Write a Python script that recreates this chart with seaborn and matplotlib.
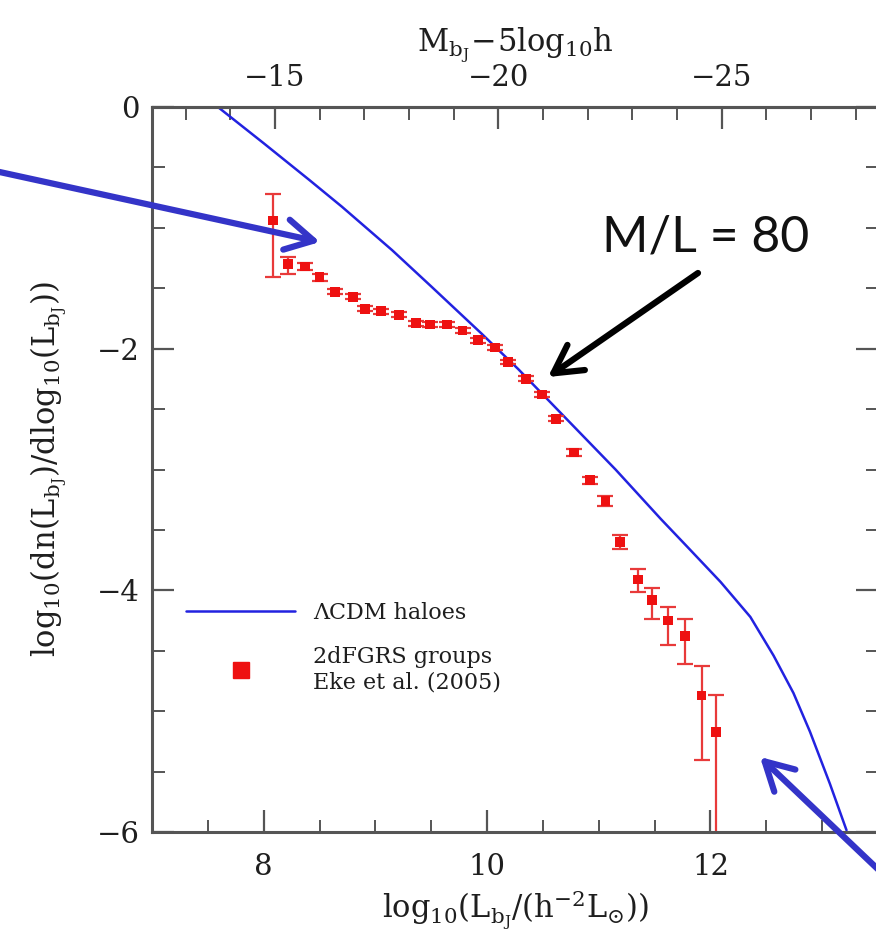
import numpy as np
import pandas as pd
import matplotlib
matplotlib.use("Agg")
import matplotlib.pyplot as plt
import seaborn as sns
from matplotlib.lines import Line2D
from matplotlib.ticker import MultipleLocator

# ---- data ----
curve_logL = [7.59, 8.00, 8.41, 8.70, 9.15, 9.50, 9.95, 10.28, 10.72, 11.15,
              11.556, 11.793, 12.09, 12.357, 12.565, 12.743, 12.891, 13.069, 13.218]
curve_phi = [0.0, -0.30, -0.605, -0.825, -1.185, -1.485, -1.875, -2.17, -2.59, -3.00,
             -3.41, -3.64, -3.93, -4.22, -4.54, -4.85, -5.17, -5.60, -5.985]

grp_logL = [8.08, 8.22, 8.37, 8.50, 8.64, 8.80, 8.91, 9.05, 9.21, 9.36, 9.49, 9.64,
            9.78, 9.92, 10.07, 10.19, 10.35, 10.49, 10.62, 10.78, 10.92, 11.06,
            11.19, 11.35, 11.48, 11.62, 11.77, 11.92, 12.05]
grp_phi = [-0.94, -1.30, -1.32, -1.41, -1.53, -1.57, -1.67, -1.69, -1.72, -1.79,
           -1.80, -1.80, -1.85, -1.93, -1.99, -2.11, -2.25, -2.38, -2.58, -2.86,
           -3.09, -3.26, -3.60, -3.91, -4.08, -4.25, -4.38, -4.87, -5.17]
grp_err_up = [0.22, 0.06, 0.03, 0.03, 0.02, 0.02, 0.02, 0.02, 0.02, 0.02, 0.02, 0.02,
              0.02, 0.02, 0.02, 0.02, 0.02, 0.02, 0.02, 0.03, 0.03, 0.04, 0.06,
              0.09, 0.10, 0.11, 0.14, 0.24, 0.30]
grp_err_lo = [0.47, 0.08, 0.03, 0.03, 0.02, 0.02, 0.02, 0.02, 0.02, 0.02, 0.02, 0.02,
              0.02, 0.02, 0.02, 0.02, 0.02, 0.02, 0.02, 0.03, 0.03, 0.04, 0.06,
              0.10, 0.16, 0.20, 0.23, 0.53, 1.50]

x_ticks = [8, 10, 12]
y_ticks = [-6, -4, -2, 0]
mag_ticks = [-15, -20, -25]
MSUN = 5.25

legend_labels = ["ΛCDM haloes", "2dFGRS groups\nEke et al. (2005)"]

# ---- style ----
sns.set_theme(style="ticks")
plt.rcParams["font.family"] = ["DejaVu Serif"]
plt.rcParams["mathtext.fontset"] = "dejavuserif"

AXC = "#555555"
TXC = "#1e1e1e"
BLUE = "#2222e0"
RED = "#ee1111"
ERED = "#e83a3a"
TICKFS = 21
LABFS = 22

fig = plt.figure(figsize=(8.76, 9.34), dpi=100)
ax = fig.add_axes([152 / 876, 102 / 934, 726 / 876, 725 / 934])

curve = pd.DataFrame({"logL": curve_logL, "phi": curve_phi})
sns.lineplot(data=curve, x="logL", y="phi", sort=False, color=BLUE, lw=1.8, ax=ax)

ax.errorbar(grp_logL, grp_phi, yerr=[grp_err_lo, grp_err_up], fmt="none",
            ecolor=ERED, elinewidth=1.6, capsize=6, capthick=1.6, zorder=2)
groups = pd.DataFrame({"logL": grp_logL, "phi": grp_phi})
sns.scatterplot(data=groups, x="logL", y="phi", marker="s", color=RED, s=50,
                edgecolor="none", ax=ax, zorder=3)

ax.set_xlim(7, 13.5)
ax.set_ylim(-6, 0)
ax.set_xticks(x_ticks)
ax.set_yticks(y_ticks)
ax.xaxis.set_minor_locator(MultipleLocator(0.5))
ax.yaxis.set_minor_locator(MultipleLocator(0.5))
ax.tick_params(which="both", direction="in", top=False, right=True,
               color=AXC, labelcolor=TXC, labelsize=TICKFS)
ax.tick_params(which="major", length=16, width=1.6)
ax.tick_params(which="minor", length=9, width=1.4)
ax.tick_params(axis="x", which="major", pad=15)
ax.tick_params(axis="y", which="major", pad=9)
for s in ax.spines.values():
    s.set_color(AXC)
    s.set_linewidth(2.2)

ax.set_xlabel(r"$\mathrm{log_{10}(L_{b_J}/(h^{-2}L_{\odot}))}$", fontsize=LABFS,
              color=TXC, labelpad=6)
ax.set_ylabel(r"$\mathrm{log_{10}(dn(L_{b_J})/dlog_{10}(L_{b_J}))}$", fontsize=LABFS,
              color=TXC, labelpad=20)

sec = ax.secondary_xaxis("top", functions=(lambda x: MSUN - 2.5 * np.asarray(x),
                                           lambda m: (MSUN - np.asarray(m)) / 2.5))
sec.set_xticks(mag_ticks)
sec.xaxis.set_minor_locator(MultipleLocator(1))
sec.tick_params(which="both", direction="in", color=AXC, labelcolor=TXC, labelsize=TICKFS)
sec.tick_params(which="major", length=16, width=1.6, pad=11)
sec.tick_params(which="minor", length=9, width=1.4)
sec.spines["top"].set_color(AXC)
sec.spines["top"].set_linewidth(2.2)
sec.set_xlabel(r"$\mathrm{M_{b_J}\!-\!5log_{10}h}$", fontsize=LABFS, color=TXC, labelpad=9)

handles = [Line2D([], [], color=BLUE, lw=1.8),
           Line2D([], [], marker="s", ls="", color=RED, ms=12)]
ax.legend(handles, legend_labels, loc="upper left", bbox_to_anchor=(0.035, 0.33),
          frameon=False, fontsize=16, handlelength=4.9, handletextpad=0.8,
          labelspacing=1.0, borderaxespad=0, labelcolor=TXC)

# ---- annotations (figure pixel coordinates) ----
fig.text(706 / 876, 1 - 238 / 934, "M/L = 80", fontsize=36, family="Lato",
         ha="center", va="center", color="#111111")
ax.annotate("", xy=(548, 934 - 377), xytext=(698, 934 - 273), xycoords="figure pixels",
            textcoords="figure pixels",
            arrowprops=dict(arrowstyle="->,head_length=1.0,head_width=0.55",
                            lw=4.5, color="black", mutation_scale=20, shrinkA=0, shrinkB=0))
ax.annotate("", xy=(320, 934 - 242), xytext=(-5, 934 - 171), xycoords="figure pixels",
            textcoords="figure pixels", annotation_clip=False,
            arrowprops=dict(arrowstyle="->,head_length=1.0,head_width=0.55",
                            lw=4.5, color="#3434c8", mutation_scale=20, shrinkA=0, shrinkB=0))
ax.annotate("", xy=(760, 934 - 757), xytext=(905, 934 - 895), xycoords="figure pixels",
            textcoords="figure pixels", annotation_clip=False,
            arrowprops=dict(arrowstyle="->,head_length=1.0,head_width=0.55",
                            lw=4.5, color="#3434c8", mutation_scale=20, shrinkA=0, shrinkB=0))

fig.savefig("out.png", dpi=100)
